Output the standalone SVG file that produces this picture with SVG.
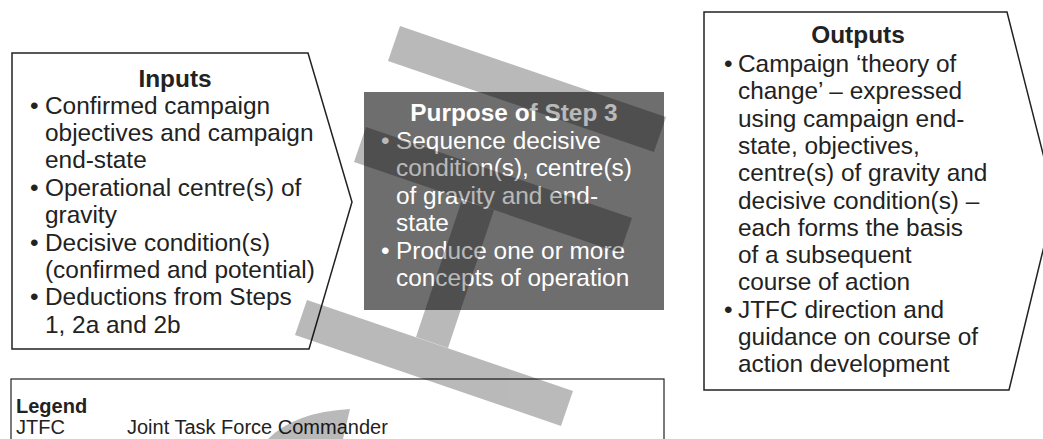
<svg xmlns="http://www.w3.org/2000/svg" width="1043" height="439" viewBox="0 0 1043 439">
<style>
.shape{fill:#ffffff;stroke:#222222;stroke-width:1.5}
.t{font-family:"Liberation Sans",Arial,sans-serif;font-size:24.4px;fill:#222222}
.b{font-weight:bold}
.w{fill:#ffffff}
.lg{font-family:"Liberation Sans",Arial,sans-serif;font-size:20px;fill:#222222}
</style>
<rect width="1043" height="439" fill="#ffffff"/>
<g id="inputs">
<path class="shape" d="M12,53 L308,53 L352,202 L309,349 L12,349 Z"/>
<text class="t b" x="175" y="87" text-anchor="middle">Inputs</text>
<text class="t">
<tspan x="30" y="113.5">•</tspan><tspan x="45" y="113.5">Confirmed campaign</tspan>
<tspan x="45" y="140.9">objectives and campaign</tspan>
<tspan x="45" y="168.3">end-state</tspan>
<tspan x="30" y="195.7">•</tspan><tspan x="45" y="195.7">Operational centre(s) of</tspan>
<tspan x="45" y="223.1">gravity</tspan>
<tspan x="30" y="250.5">•</tspan><tspan x="45" y="250.5">Decisive condition(s)</tspan>
<tspan x="45" y="277.9">(confirmed and potential)</tspan>
<tspan x="30" y="305.3">•</tspan><tspan x="45" y="305.3">Deductions from Steps</tspan>
<tspan x="45" y="332.7">1, 2a and 2b</tspan>
</text>
</g>
<g id="purpose">
<rect x="364" y="92" width="300" height="218" fill="#6e6e6e"/>
<text class="t b w" x="514" y="121" text-anchor="middle">Purpose of Step 3</text>
<text class="t w">
<tspan x="381" y="149">•</tspan><tspan x="396" y="149">Sequence decisive</tspan>
<tspan x="396" y="176.4">condition(s), centre(s)</tspan>
<tspan x="396" y="203.8">of gravity and end-</tspan>
<tspan x="396" y="231.2">state</tspan>
<tspan x="381" y="258.6">•</tspan><tspan x="396" y="258.6">Produce one or more</tspan>
<tspan x="396" y="286">concepts of operation</tspan>
</text>
</g>
<g id="outputs">
<path class="shape" d="M704,12 L1007,12 L1055,201 L1009,390 L704,390 Z"/>
<text class="t b" x="858" y="43" text-anchor="middle">Outputs</text>
<text class="t">
<tspan x="724" y="72">•</tspan><tspan x="738" y="72">Campaign ‘theory of</tspan>
<tspan x="738" y="99.3">change’ – expressed</tspan>
<tspan x="738" y="126.6">using campaign end-</tspan>
<tspan x="738" y="153.9">state, objectives,</tspan>
<tspan x="738" y="181.2">centre(s) of gravity and</tspan>
<tspan x="738" y="208.5">decisive condition(s) –</tspan>
<tspan x="738" y="235.8">each forms the basis</tspan>
<tspan x="738" y="263.1">of a subsequent</tspan>
<tspan x="738" y="290.4">course of action</tspan>
<tspan x="724" y="317.7">•</tspan><tspan x="738" y="317.7">JTFC direction and</tspan>
<tspan x="738" y="345">guidance on course of</tspan>
<tspan x="738" y="372.3">action development</tspan>
</text>
</g>
<g id="legend">
<rect x="11" y="379" width="653" height="70" fill="#ffffff" stroke="#222222" stroke-width="1.2"/>
<text class="lg b" x="16" y="413">Legend</text>
<text class="lg" x="16" y="434">JTFC</text>
<text class="lg" x="127" y="434">Joint Task Force Commander</text>
</g>
<g id="connectors"/>
<g id="watermark" opacity="0.27" fill="#000000">
<path d="M400,26 L666,117 L654,152 L388,61 Z"/>
<path d="M366,127 L632,218 L620,253 L354,162 Z M462,200 L494,210 L448,348 L416,337 Z M307,300 L573,391 L561,426 L295,335 Z"/>
<path d="M268,439 Q295,412 350,409 L343,439 Z"/>
</g>
</svg>
